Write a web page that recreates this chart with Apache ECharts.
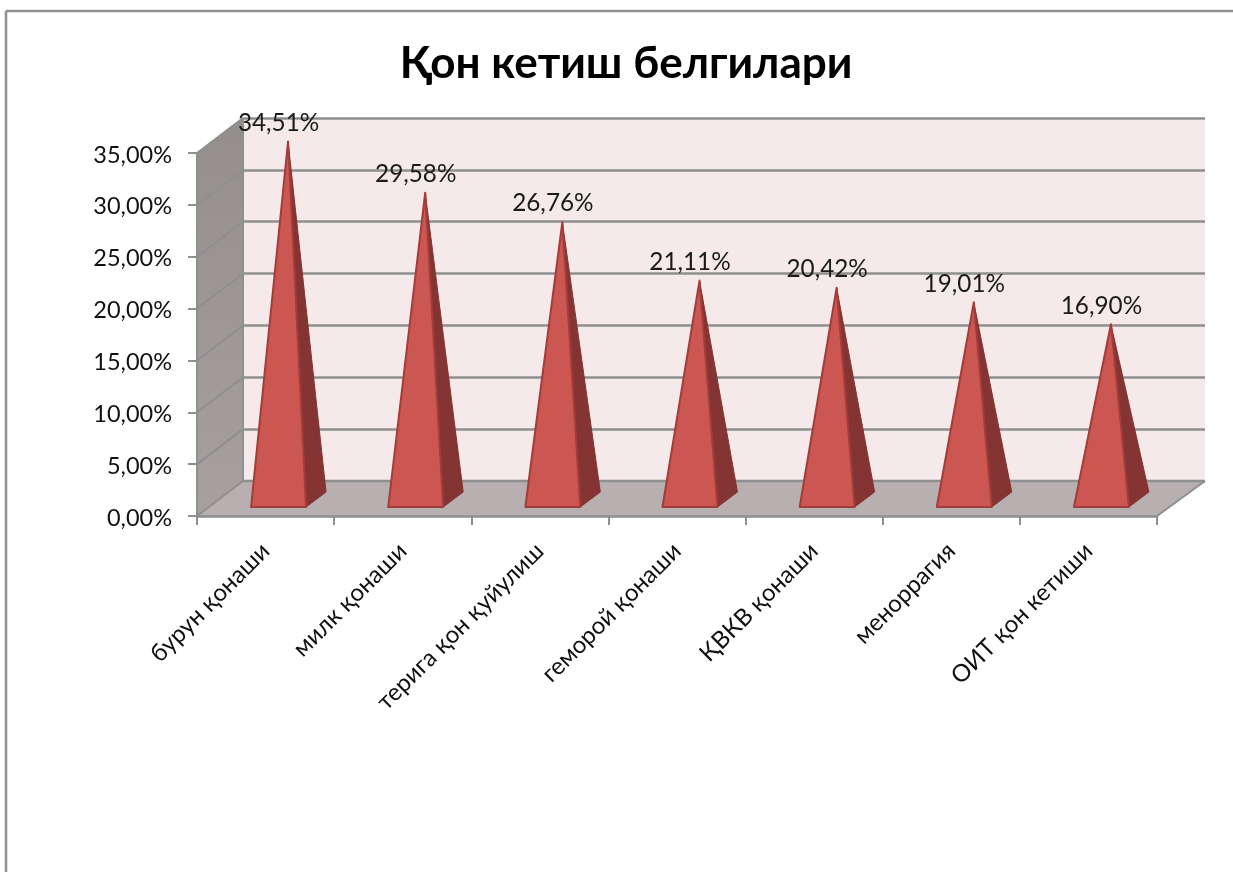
<!DOCTYPE html>
<html><head><meta charset="utf-8">
<style>html,body{margin:0;padding:0;background:#fff}#c{width:1233px;height:872px}</style>
<script src="https://cdn.jsdelivr.net/npm/echarts@6/dist/echarts.min.js"></script>
</head><body><div id="c"></div>
<script>
const titleText = 'Қон кетиш белгилари';
const categories = ['бурун қонаши','милк қонаши','терига қон қуйулиш','геморой қонаши','ҚВКВ қонаши','меноррагия','ОИТ қон кетиши'];
const values = [34.51,29.58,26.76,21.11,20.42,19.01,16.90];
const ticks = [0,5,10,15,20,25,30,35];
const fontFamily = 'Lato, "Open Sans", "Noto Sans", sans-serif';
const fmt = v => v.toFixed(2).replace('.', ',') + '%';
const DX = 46, DY = -35;
const GRID = '#8f8f8f';

function renderRoom(params, api) {
  const v = api.value(0);
  const p = api.coord([0, v]);
  const x0 = params.coordSys.x, x1 = x0 + params.coordSys.width;
  const y = p[1];
  const children = [];
  if (params.dataIndex === 0) {
    const top = api.coord([0, 35])[1];
    children.push({type:'polygon', shape:{points:[[x0,top],[x0+DX,top+DY],[x0+DX,y+DY],[x0,y]]},
      style:{fill:new echarts.graphic.LinearGradient(0,0,0,1,[{offset:0,color:'#948e8d'},{offset:1,color:'#a6a09f'}])}});
    children.push({type:'polygon', shape:{points:[[x0,y],[x0+DX,y+DY],[x1+DX+2,y+DY],[x1,y]]},
      style:{fill:'#b8b0b0'}});
    children.push({type:'line', shape:{x1:x0+DX,y1:y+DY,x2:x1+DX+2,y2:y+DY}, style:{stroke:GRID,lineWidth:2.5}});
    children.push({type:'line', shape:{x1:x1,y1:y,x2:x1+DX+2,y2:y+DY}, style:{stroke:GRID,lineWidth:2}});
    children.push({type:'line', shape:{x1:x0+DX,y1:top+DY,x2:x0+DX,y2:y+DY}, style:{stroke:GRID,lineWidth:2}});
  }
  children.push({type:'line', shape:{x1:x0,y1:y,x2:x0+DX,y2:y+DY}, style:{stroke:GRID,lineWidth:2}});
  return {type:'group', children};
}

function renderPyramid(params, api) {
  const i = api.value(0), v = api.value(1);
  const base = api.coord([i, 0]);
  const tip = api.coord([i, v]);
  const cx = base[0], by = base[1];
  const L = cx - 14.5, R = cx + 40.5, Y = by - 9;
  const apex = [cx + 22.5, tip[1] - 16.5];
  const back = [cx + 60.5, by - 24];
  return {type:'group', children:[
    {type:'polygon', shape:{points:[[R,Y],back,apex]}, style:{fill:'#843432',stroke:'#843432',lineWidth:1}},
    {type:'polygon', shape:{points:[[L,Y],[R,Y],apex]}, style:{fill:'#cc5651',stroke:'#a33c3a',lineWidth:2,lineJoin:'round'}},
    {type:'text', x:cx + 13, y:apex[1] - 18.5,
      style:{text:fmt(v),font:'24.3px '+fontFamily,fill:'#1a1a1a',textAlign:'center',textVerticalAlign:'middle'}}
  ]};
}

const chart = echarts.init(document.getElementById('c'));
chart.setOption({
  animation:false,
  backgroundColor:'#fff',
  title:{text:titleText,left:621,top:37,textAlign:'center',
    textStyle:{fontFamily,fontWeight:'bold',fontSize:44,color:'#000'}},
  graphic:[
    {type:'line',shape:{x1:6,y1:11,x2:1233,y2:11},style:{stroke:'#8f8f8f',lineWidth:2.5},z:-1},
    {type:'line',shape:{x1:6,y1:11,x2:6,y2:872},style:{stroke:'#8f8f8f',lineWidth:2.5},z:-1}
  ],
  grid:[
    {left:197,top:153,width:960,height:363,show:false},
    {left:243,top:118,width:962,height:363,show:true,backgroundColor:'#f5e9e9',borderWidth:0}
  ],
  xAxis:[
    {gridIndex:0,type:'category',data:categories,z:5,
      axisLine:{lineStyle:{color:GRID,width:2.5}},
      axisTick:{show:true,length:9,alignWithLabel:false,lineStyle:{color:GRID,width:2}},
      axisLabel:{interval:0,rotate:45,margin:31,fontFamily,fontSize:24,color:'#111'},
      splitLine:{show:false}},
    {gridIndex:1,type:'category',data:categories,show:false}
  ],
  yAxis:[
    {gridIndex:0,type:'value',min:0,max:35,interval:5,z:5,
      axisLine:{show:true,lineStyle:{color:GRID,width:2}},
      axisTick:{show:true,length:9,lineStyle:{color:GRID,width:2}},
      axisLabel:{margin:25,fontFamily,fontSize:23.5,color:'#111',formatter:v=>'{a|'+fmt(v)+'}',
        rich:{a:{fontFamily,fontSize:23.5,color:'#111',padding:[4,0,0,0]}}},
      splitLine:{show:false}},
    {gridIndex:1,type:'value',min:0,max:35,interval:5,
      axisLine:{show:false},axisTick:{show:false},axisLabel:{show:false},
      splitLine:{show:true,lineStyle:{color:GRID,width:2.5}}}
  ],
  series:[
    {type:'custom',name:'room',xAxisIndex:0,yAxisIndex:0,z:1,clip:false,silent:true,
      renderItem:renderRoom,data:ticks.map(t=>[t]),encode:{y:0}},
    {type:'custom',name:'Қон кетиш белгилари',xAxisIndex:0,yAxisIndex:0,z:3,clip:false,
      renderItem:renderPyramid,data:values.map((v,i)=>[i,v]),encode:{x:0,y:1}}
  ]
});
</script></body></html>
